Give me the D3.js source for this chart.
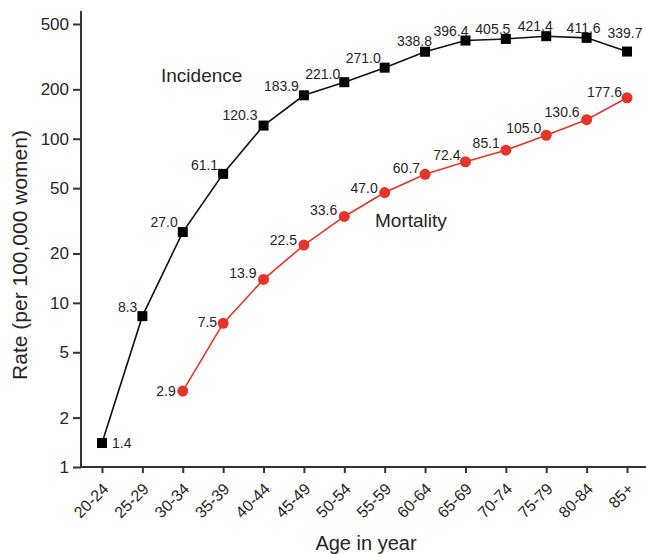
<!DOCTYPE html>
<html>
<head>
<meta charset="utf-8">
<script src="https://cdn.jsdelivr.net/npm/d3@7"></script>
<style>
  body { margin: 0; background: #fff; }
  svg { display: block; font-family: "Liberation Sans", Arial, sans-serif; }
</style>
</head>
<body>
<svg id="chart" width="646" height="554"></svg>
<script>
// Age groups and rates per 100,000 women (log scale)
const ageGroups = ['20-24', '25-29', '30-34', '35-39', '40-44', '45-49', '50-54',
  '55-59', '60-64', '65-69', '70-74', '75-79', '80-84', '85+'];
const incidence = [1.4, 8.3, 27.0, 61.1, 120.3, 183.9, 221.0, 271.0, 338.8, 396.4,
  405.5, 421.4, 411.6, 339.7];
// mortality starts at 30-34
const mortalityAges = ageGroups.slice(2);
const mortality = [2.9, 7.5, 13.9, 22.5, 33.6, 47.0, 60.7, 72.4, 85.1, 105.0, 130.6, 177.6];
const yTicks = [1, 2, 5, 10, 20, 50, 100, 200, 500];

// label nudges [dx, dy, anchor], hand placed like the original
const incNudge = [[10, 5, 'start'], [-5, -4, 'end'], [-5, -5, 'end'], [-5, -4, 'end'],
  [-6, -6, 'end'], [-5, -4, 'end'], [-4, -3, 'end'], [-4, -5, 'end'], [7, -6, 'end'],
  [3, -5, 'end'], [-13, -5, 'middle'], [-11, -5, 'middle'], [-3, -5, 'middle'],
  [-2, -14, 'middle']];
const morNudge = [[-7, 5, 'end'], [-6, 4, 'end'], [-7, -1, 'end'], [-7, 0, 'end'],
  [-7, -1, 'end'], [-7, 0, 'end'], [-5, -1, 'end'], [-5, -2, 'end'], [-6, -2, 'end'],
  [-5, -2, 'end'], [-7, -3, 'end'], [-5, -1, 'end']];

const svg = d3.select('#chart');
const axisCol = '#333';
const textCol = '#262626';
const red = '#e5352b';

const x = d3.scalePoint().domain(ageGroups).range([102, 627]);
const y = d3.scaleLog().domain([1, 600]).range([467, 11]);

// y axis
const yAxis = svg.append('g').attr('transform', 'translate(81,0)')
  .call(d3.axisLeft(y).tickValues(yTicks).tickFormat(d3.format('d')).tickSize(8).tickPadding(4));
yAxis.select('.domain').attr('stroke', axisCol).attr('stroke-width', 2)
  .attr('d', 'M0,11V467');
yAxis.selectAll('.tick line').attr('stroke', axisCol).attr('stroke-width', 2);
yAxis.selectAll('.tick text').attr('fill', textCol).style('font-size', '17px');

// x axis
const xAxis = svg.append('g').attr('transform', 'translate(0,467)')
  .call(d3.axisBottom(x).tickSize(6).tickPadding(4));
xAxis.select('.domain').attr('stroke', axisCol).attr('stroke-width', 2)
  .attr('d', 'M81,0H646');
xAxis.selectAll('.tick line').attr('stroke', axisCol).attr('stroke-width', 2);
xAxis.selectAll('.tick text')
  .attr('fill', textCol).style('font-size', '16px')
  .attr('text-anchor', 'end')
  .attr('x', 0).attr('y', 0).attr('dy', 0)
  .attr('transform', 'translate(7,23) rotate(-45)');

// axis titles
svg.append('text').attr('x', 366).attr('y', 550).attr('text-anchor', 'middle')
  .attr('fill', textCol).style('font-size', '20px').text('Age in year');
svg.append('text').attr('transform', 'translate(27,255) rotate(-90)')
  .attr('text-anchor', 'middle').attr('fill', textCol).style('font-size', '21px')
  .text('Rate (per 100,000 women)');

// lines
const line = d3.line().x(d => x(d[0])).y(d => y(d[1]));
const incPts = ageGroups.map((a, i) => [a, incidence[i]]);
const morPts = mortalityAges.map((a, i) => [a, mortality[i]]);

svg.append('path').attr('d', line(incPts)).attr('fill', 'none')
  .attr('stroke', '#111').attr('stroke-width', 1.6);
svg.append('path').attr('d', line(morPts)).attr('fill', 'none')
  .attr('stroke', red).attr('stroke-width', 1.6);

// markers
svg.append('g').selectAll('rect').data(incPts).join('rect')
  .attr('x', d => x(d[0]) - 5).attr('y', d => y(d[1]) - 5)
  .attr('width', 10).attr('height', 10).attr('fill', '#000');
svg.append('g').selectAll('circle').data(morPts).join('circle')
  .attr('cx', d => x(d[0])).attr('cy', d => y(d[1])).attr('r', 5.5).attr('fill', red);

// value labels
function labels(pts, nudge) {
  svg.append('g').selectAll('text').data(pts).join('text')
    .attr('x', (d, i) => x(d[0]) + nudge[i][0])
    .attr('y', (d, i) => y(d[1]) + nudge[i][1])
    .attr('text-anchor', (d, i) => nudge[i][2])
    .attr('fill', textCol).style('font-size', '14px')
    .text(d => d[1].toFixed(1));
}
labels(incPts, incNudge);
labels(morPts, morNudge);

// series names
svg.append('text').attr('x', 161).attr('y', 82).attr('fill', textCol)
  .style('font-size', '19px').text('Incidence');
svg.append('text').attr('x', 375).attr('y', 227).attr('fill', textCol)
  .style('font-size', '19px').text('Mortality');
</script>
</body>
</html>
